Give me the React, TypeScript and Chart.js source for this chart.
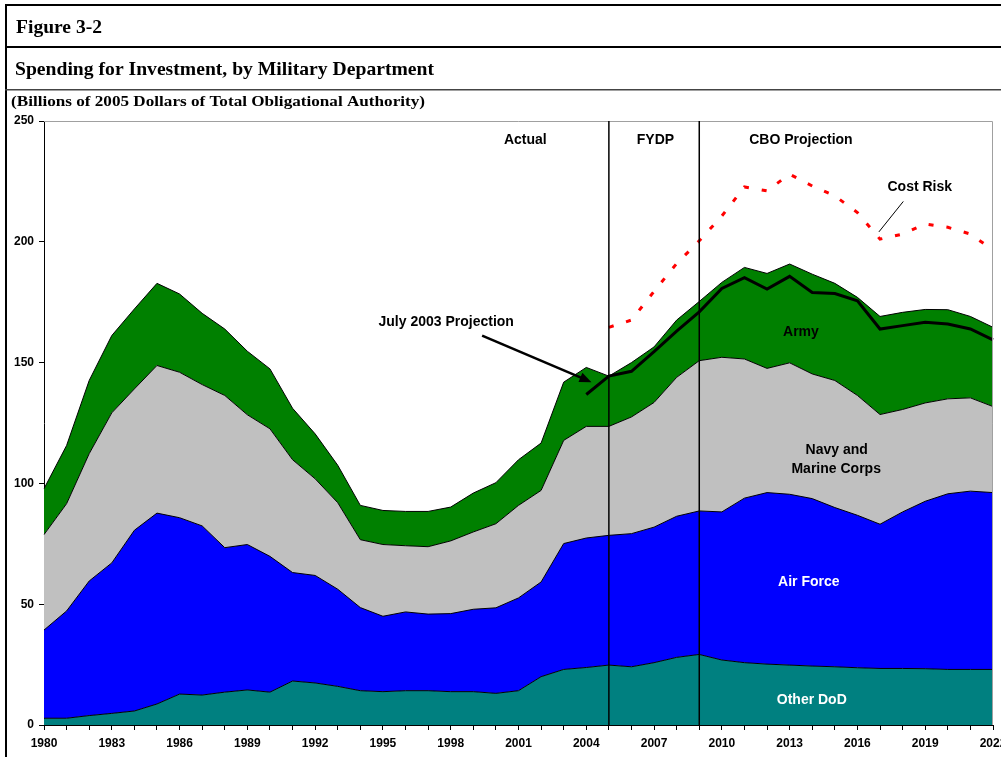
import React, { useEffect, useRef } from 'react';
import { Chart, registerables } from 'chart.js';

Chart.register(...registerables);

const years = [
  1980, 1981, 1982, 1983, 1984, 1985, 1986, 1987, 1988, 1989,
  1990, 1991, 1992, 1993, 1994, 1995, 1996, 1997, 1998, 1999,
  2000, 2001, 2002, 2003, 2004, 2005, 2006, 2007, 2008, 2009,
  2010, 2011, 2012, 2013, 2014, 2015, 2016, 2017, 2018, 2019,
  2020, 2021, 2022,
];

const labeledYears = [1980, 1983, 1986, 1989, 1992, 1995, 1998, 2001, 2004, 2007, 2010, 2013, 2016, 2019, 2022];

const yTicks = [0, 50, 100, 150, 200, 250];

const otherDod = [
  2.8, 2.8, 3.9, 4.8, 5.8, 8.7, 12.8, 12.4, 13.6, 14.5,
  13.6, 18.2, 17.4, 16.0, 14.2, 13.8, 14.2, 14.2, 13.8, 13.8,
  13.1, 14.2, 20.0, 23.0, 23.8, 24.8, 24.1, 25.8, 28.0, 29.2,
  26.9, 25.8, 25.2, 24.8, 24.4, 24.1, 23.7, 23.4, 23.4, 23.3,
  23.0, 23.0, 23.0,
];

const airForce = [
  36.5, 44.4, 55.7, 62.3, 74.8, 79.0, 73.0, 70.0, 59.8, 60.2,
  56.2, 44.9, 44.5, 40.2, 34.4, 31.2, 32.6, 31.7, 32.3, 34.1,
  35.4, 38.4, 39.2, 52.1, 53.6, 53.7, 55.1, 56.1, 58.4, 59.4,
  61.3, 68.1, 71.0, 70.7, 69.3, 65.9, 63.1, 59.7, 64.8, 69.3,
  72.7, 73.8, 73.2,
];

const navy = [
  39.5, 44.4, 52.7, 62.1, 58.5, 61.1, 60.2, 58.5, 63.0, 53.7,
  52.8, 46.7, 40.0, 35.8, 28.1, 29.7, 27.4, 27.9, 30.1, 32.0,
  34.8, 38.3, 37.9, 42.7, 46.2, 45.1, 48.3, 51.6, 57.5, 62.2,
  64.0, 57.6, 51.4, 54.4, 51.6, 52.6, 49.6, 45.4, 42.4, 40.7,
  39.3, 38.6, 35.6,
];

const army = [
  19.0, 24.1, 30.3, 32.0, 33.1, 34.0, 32.4, 29.5, 27.5, 26.3,
  24.8, 21.3, 18.6, 15.5, 14.2, 14.1, 14.2, 14.6, 14.0, 16.1,
  17.0, 18.9, 19.6, 24.1, 24.4, 20.8, 22.5, 23.0, 23.7, 24.5,
  31.0, 37.9, 39.3, 40.9, 41.3, 40.2, 40.6, 40.6, 40.2, 38.7,
  36.9, 33.7, 32.8,
];

const july2003Projection = [
  null, null, null, null, null, null, null, null, null, null,
  null, null, null, null, null, null, null, null, null, null,
  null, null, null, null, 136.8, 144.4, 146.4, 154.5, 163.0, 171.0,
  180.7, 185.2, 180.4, 185.7, 179.0, 178.6, 175.6, 163.9, 165.3, 166.7,
  166.0, 163.9, 159.4,
];

const costRisk = [
  null, null, null, null, null, null, null, null, null, null,
  null, null, null, null, null, null, null, null, null, null,
  null, null, null, null, null, 164.6, 167.6, 179.5, 191.0, 200.4,
  210.7, 222.7, 221.1, 228.0, 223.1, 219.0, 212.1, 201.1, 203.2, 207.4,
  206.0, 203.2, 196.6,
];

const periodBoundaries = [2005, 2009];

const SANS = '"Liberation Sans", Arial, sans-serif';
const SERIF = '"Liberation Serif", "Times New Roman", serif';

const fitText = (ctx: any, s: string, x: number, y: number, width: number) => {
  const w = ctx.measureText(s).width;
  ctx.save();
  ctx.translate(x, y);
  ctx.scale(width / w, 1);
  ctx.fillText(s, 0, 0);
  ctx.restore();
};

const framePlugin = {
  id: 'frame',
  beforeDraw(chart: any) {
    const ctx = chart.ctx;
    ctx.save();
    ctx.fillStyle = '#000';
    ctx.fillRect(5, 4, 2, 753);
    ctx.fillRect(5, 4, 996, 2);
    ctx.fillRect(5, 46, 996, 2);
    ctx.fillStyle = '#444';
    ctx.fillRect(5, 89, 996, 1.5);
    ctx.fillStyle = '#000';
    ctx.textBaseline = 'alphabetic';
    ctx.textAlign = 'left';
    ctx.font = `bold 18.5px ${SERIF}`;
    fitText(ctx, 'Figure 3-2', 16, 33, 86);
    ctx.font = `bold 19.5px ${SERIF}`;
    fitText(ctx, 'Spending for Investment, by Military Department', 15, 75, 419);
    ctx.font = `bold 15px ${SERIF}`;
    fitText(ctx, '(Billions of 2005 Dollars of Total Obligational Authority)', 11, 106, 414);
    ctx.restore();
  },
};

const annotationPlugin = {
  id: 'annotations',
  afterDatasetsDraw(chart: any) {
    const ctx = chart.ctx;
    const xs = chart.scales.x;
    const ys = chart.scales.y;
    const area = chart.chartArea;
    const px = (yr: number) => xs.getPixelForValue(yr - years[0]);
    const py = (v: number) => ys.getPixelForValue(v);
    ctx.save();

    ctx.strokeStyle = '#a0a0a0';
    ctx.lineWidth = 1;
    ctx.beginPath();
    ctx.moveTo(area.left, area.top + 0.5);
    ctx.lineTo(area.right - 0.5, area.top + 0.5);
    ctx.lineTo(area.right - 0.5, area.bottom);
    ctx.stroke();

    ctx.strokeStyle = '#000';
    ctx.lineWidth = 1.5;
    periodBoundaries.forEach((yr) => {
      const x = px(yr);
      ctx.beginPath();
      ctx.moveTo(x, area.top);
      ctx.lineTo(x, area.bottom);
      ctx.stroke();
    });

    const text = (s: string, yr: number, v: number, color = '#000') => {
      ctx.fillStyle = color;
      ctx.font = `bold 14px ${SANS}`;
      ctx.textAlign = 'center';
      ctx.textBaseline = 'middle';
      ctx.fillText(s, px(yr), py(v));
    };
    text('Actual', 2001.3, 242.1);
    text('FYDP', 2007.06, 242.1);
    text('CBO Projection', 2013.5, 242.1);
    text('Army', 2013.5, 162.5);
    text('Navy and', 2015.08, 113.6);
    text('Marine Corps', 2015.06, 105.8);
    text('Air Force', 2013.85, 59.1, '#fff');
    text('Other DoD', 2013.98, 10.3, '#fff');
    text('Cost Risk', 2018.76, 222.7);
    text('July 2003 Projection', 1997.8, 166.9);

    ctx.strokeStyle = '#000';
    ctx.lineWidth = 1;
    ctx.beginPath();
    ctx.moveTo(px(2018.03), py(216.7));
    ctx.lineTo(px(2016.95), py(204.1));
    ctx.stroke();

    const x1 = px(1999.39), y1 = py(161.2);
    const x2 = px(2004.23), y2 = py(141.9);
    const ang = Math.atan2(y2 - y1, x2 - x1);
    const head = 12;
    const hw = 5;
    ctx.lineWidth = 2.5;
    ctx.beginPath();
    ctx.moveTo(x1, y1);
    ctx.lineTo(x2 - Math.cos(ang) * head * 0.8, y2 - Math.sin(ang) * head * 0.8);
    ctx.stroke();
    ctx.fillStyle = '#000';
    ctx.beginPath();
    ctx.moveTo(x2, y2);
    ctx.lineTo(x2 - Math.cos(ang) * head - Math.sin(ang) * hw, y2 - Math.sin(ang) * head + Math.cos(ang) * hw);
    ctx.lineTo(x2 - Math.cos(ang) * head + Math.sin(ang) * hw, y2 - Math.sin(ang) * head - Math.cos(ang) * hw);
    ctx.closePath();
    ctx.fill();

    ctx.restore();
  },
};

export default function App() {
  const ref = useRef<HTMLCanvasElement>(null);

  useEffect(() => {
    const areaDs = (label: string, data: number[], color: string, fill: any) => ({
      label,
      data,
      backgroundColor: color,
      borderColor: '#000',
      borderWidth: 1,
      fill,
      pointRadius: 0,
      tension: 0,
      stack: 'areas',
      order: 0,
    });

    const chart = new Chart(ref.current!, {
      type: 'line',
      data: {
        labels: years.map(String),
        datasets: [
          areaDs('Other DoD', otherDod, '#008080', 'origin'),
          areaDs('Air Force', airForce, '#0000ff', '-1'),
          areaDs('Navy and Marine Corps', navy, '#c0c0c0', '-1'),
          areaDs('Army', army, '#008000', '-1'),
          {
            label: 'July 2003 Projection',
            data: july2003Projection,
            borderColor: '#000',
            borderWidth: 3,
            fill: false,
            pointRadius: 0,
            tension: 0,
            stack: 'projection',
            order: -1,
            spanGaps: false,
          },
          {
            label: 'Cost Risk',
            data: costRisk,
            borderColor: '#ff0000',
            borderWidth: 3,
            borderDash: [5, 13],
            fill: false,
            pointRadius: 0,
            tension: 0,
            stack: 'risk',
            order: -2,
            spanGaps: false,
          },
        ] as any,
      },
      options: {
        responsive: false,
        animation: false,
        devicePixelRatio: 1,
        layout: { padding: { left: 6, top: 121, right: 8, bottom: 0 } },
        plugins: {
          legend: { display: false },
          title: { display: false },
          tooltip: { enabled: false },
        },
        scales: {
          x: {
            type: 'category',
            offset: false,
            grid: {
              drawOnChartArea: false,
              color: '#000',
              tickLength: 5,
              offset: false,
            },
            border: { color: '#000', width: 1 },
            ticks: {
              autoSkip: false,
              maxRotation: 0,
              minRotation: 0,
              padding: 6,
              color: '#000',
              font: { family: SANS, size: 12, weight: 'bold' },
              callback: (_v: any, i: number) => (labeledYears.includes(years[i]) ? String(years[i]) : ''),
            },
            afterFit: (s: any) => {
              s.height = 32;
              s.paddingLeft = 0;
              s.paddingRight = 0;
            },
          },
          y: {
            type: 'linear',
            stacked: true,
            min: yTicks[0],
            max: yTicks[yTicks.length - 1],
            grid: {
              drawOnChartArea: false,
              color: '#000',
              tickLength: 5,
            },
            border: { color: '#000', width: 1 },
            ticks: {
              stepSize: 50,
              padding: 5,
              color: '#000',
              font: { family: SANS, size: 12, weight: 'bold' },
            },
            afterFit: (s: any) => {
              s.width = 38;
              s.paddingTop = 0;
              s.paddingBottom = 0;
            },
          },
        },
      } as any,
      plugins: [framePlugin, annotationPlugin],
    });
    return () => chart.destroy();
  }, []);

  return (
    <div style={{ position: 'absolute', left: 0, top: 0, width: 1001, height: 757, background: '#fff' }}>
      <canvas ref={ref} width={1001} height={757} style={{ width: 1001, height: 757, display: 'block' }} />
    </div>
  );
}
